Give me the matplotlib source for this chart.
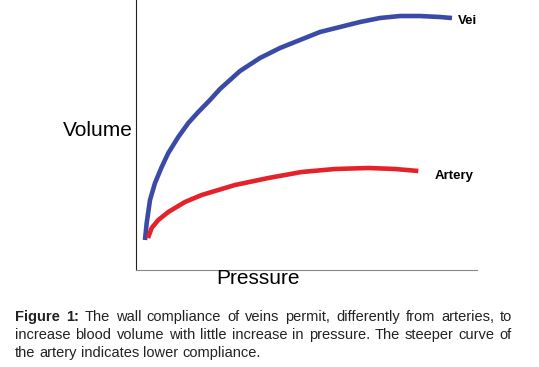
import matplotlib
matplotlib.use("Agg")
from matplotlib import pyplot as plt

plt.rcParams['font.family'] = ['Liberation Sans', 'DejaVu Sans']

# curve points (pressure 0-100, volume 0-100)
vein_p = [2.64, 3.14, 4.11, 5.57, 7.54, 9.47, 12.40, 15.34, 18.27, 21.70, 24.63, 30.50,
          36.36, 42.23, 48.09, 53.96, 59.82, 65.69, 71.55, 77.42, 83.28, 89.15, 92.67]
vein_v = [11.11, 17.41, 25.93, 32.22, 38.15, 43.33, 49.26, 54.44, 58.52, 62.96, 67.04, 73.70,
          78.52, 82.22, 85.19, 88.15, 90.00, 91.85, 93.33, 94.07, 94.07, 93.70, 93.33]
artery_p = [3.52, 4.60, 6.54, 9.47, 14.37, 19.27, 29.03, 38.80, 48.59, 58.36, 68.12, 75.95, 82.79]
artery_v = [11.85, 15.56, 18.52, 21.48, 25.19, 27.78, 31.48, 34.07, 36.30, 37.41, 37.78, 37.41, 36.67]

caption = [
    "The wall compliance of veins permit, differently from arteries, to",
    "increase blood volume with little increase in pressure. The steeper curve of",
    "the artery indicates lower compliance.",
]

fig = plt.figure(figsize=(5.39, 3.67), dpi=100)
ax = fig.add_axes([0.2523, 0.2643, 0.6327, 0.7357])

ax.plot(vein_p, vein_v, color='#3a4aa6', lw=3.3, solid_joinstyle='round', solid_capstyle='butt')
ax.plot(artery_p, artery_v, color='#e52229', lw=3.3, solid_joinstyle='round', solid_capstyle='butt')
ax.set_xlim(0, 100)
ax.set_ylim(0, 100)
ax.set_xticks([]), ax.set_yticks([])
for s in ['top', 'right']:
    ax.spines[s].set_visible(False)
ax.spines['left'].set_color('#222222')
ax.spines['bottom'].set_color('#888888')

ax.text(94.3, 92.3, "Vei", fontsize=9.5, fontweight='bold', va='center', ha='left')
ax.text(87.5, 35.0, "Artery", fontsize=9.5, fontweight='bold', va='center', ha='left')

fig.text(133/539, 1 - 130/367, "Volume", fontsize=15, ha='right', va='center')
fig.text(258/539, 1 - 279/367, "Pressure", fontsize=15, ha='center', va='center')

# caption, justified between x=15 and x=512 px
fig.canvas.draw()
r = fig.canvas.get_renderer()
left, right = 15, 512
ys = [317, 335, 353]
for i, line in enumerate(caption):
    words = [(w, 'normal') for w in line.split()]
    if i == 0:
        words = [("Figure", 'bold'), ("1:", 'bold')] + words
    texts = [fig.text(0, 1 - ys[i]/367, w, fontsize=10.5, fontweight=wt, va='center',
                      ha='left', color='#222222') for w, wt in words]
    widths = [t.get_window_extent(r).width for t in texts]
    if i < len(caption) - 1:
        gap = (right - left - sum(widths)) / (len(words) - 1)
    else:
        gap = 4.0
    x = left
    for t, w in zip(texts, widths):
        t.set_x(x / 539)
        x += w + gap

fig.savefig("out.png", dpi=100)
